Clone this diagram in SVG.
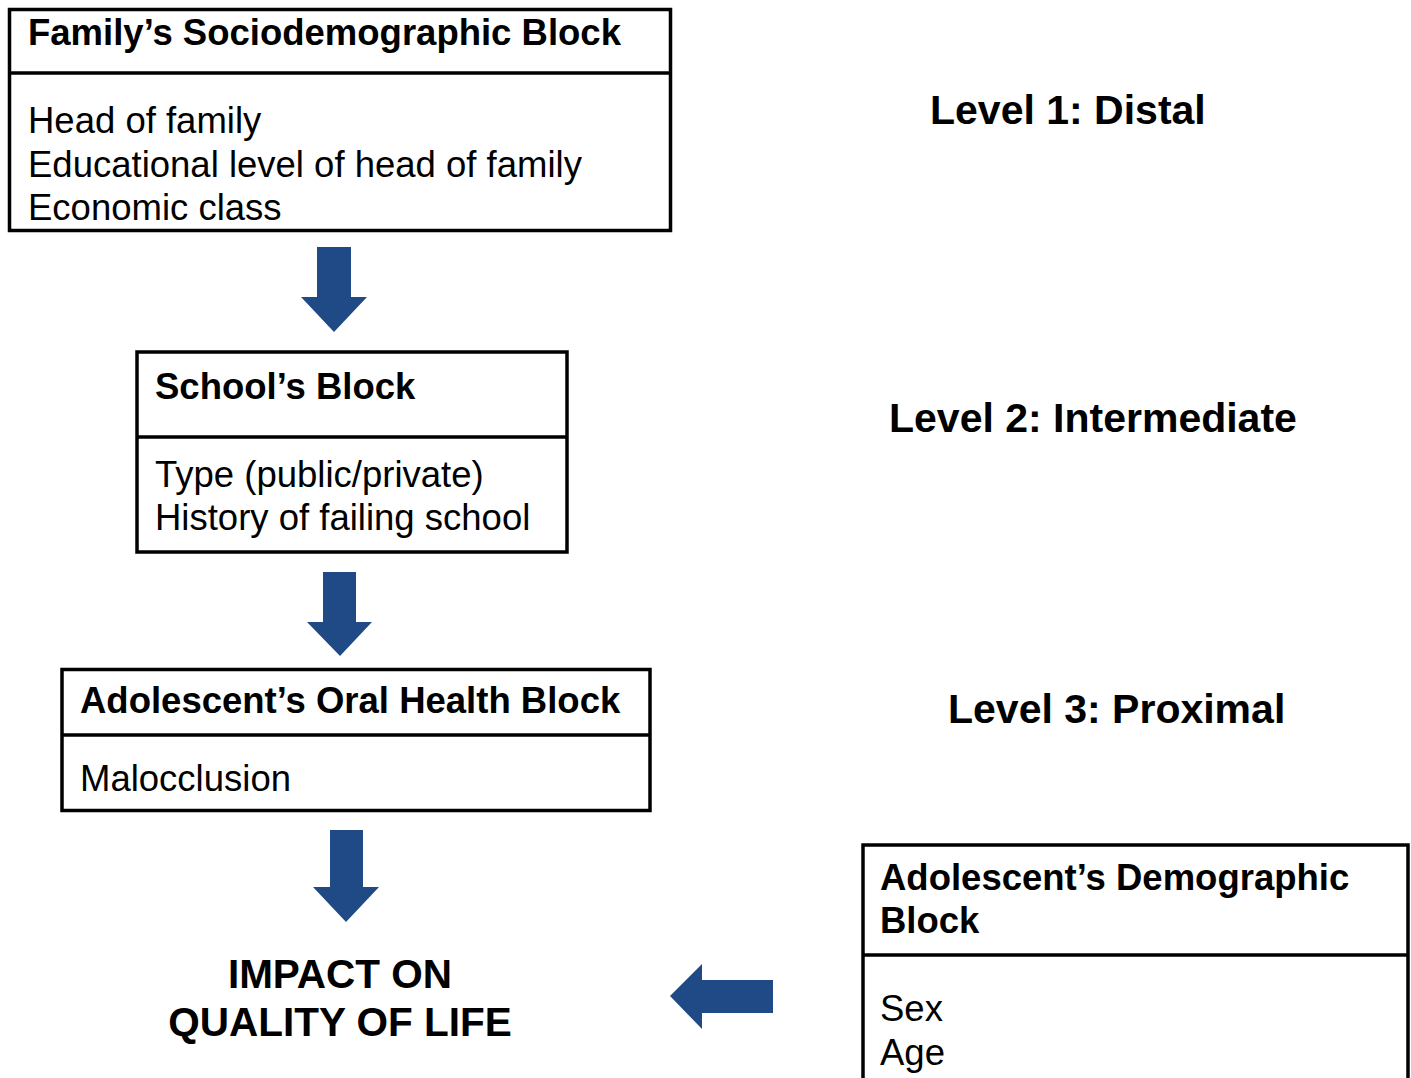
<svg xmlns="http://www.w3.org/2000/svg" width="1411" height="1078" viewBox="0 0 1411 1078">
<style>
.box{fill:#fff;stroke:#000;stroke-width:3.5}
.div{stroke:#000;stroke-width:3.5}
.t{font-family:"Liberation Sans",Arial,sans-serif;font-size:36.5px;font-weight:bold;fill:#000}
.b{font-family:"Liberation Sans",Arial,sans-serif;font-size:36.5px;fill:#000}
.lv{font-family:"Liberation Sans",Arial,sans-serif;font-size:41px;font-weight:bold;fill:#000}
.im{font-family:"Liberation Sans",Arial,sans-serif;font-size:40.5px;font-weight:bold;fill:#000}
.arr{fill:#1F4A85}
</style>
<rect width="1411" height="1078" fill="#fff"/>
<g id="family-block">
<rect class="box" x="9.5" y="9.5" width="661" height="221"/>
<line class="div" x1="9.5" y1="73" x2="670.5" y2="73"/>
<text class="t" x="28" y="45">Family’s Sociodemographic Block</text>
<text class="b" x="28" y="133">Head of family</text>
<text class="b" x="28" y="177">Educational level of head of family</text>
<text class="b" x="28" y="220">Economic class</text>
</g>
<g id="school-block">
<rect class="box" x="137" y="352" width="430" height="200"/>
<line class="div" x1="137" y1="437" x2="567" y2="437"/>
<text class="t" x="155" y="399">School’s Block</text>
<text class="b" x="155" y="487">Type (public/private)</text>
<text class="b" x="155" y="530">History of failing school</text>
</g>
<g id="oral-health-block">
<rect class="box" x="62" y="669.5" width="588" height="141"/>
<line class="div" x1="62" y1="735" x2="650" y2="735"/>
<text class="t" x="80" y="713">Adolescent’s Oral Health Block</text>
<text class="b" x="80" y="791">Malocclusion</text>
</g>
<g id="demographic-block">
<rect class="box" x="863" y="845" width="545" height="250"/>
<line class="div" x1="863" y1="955" x2="1408" y2="955"/>
<text class="t" x="880" y="890">Adolescent’s Demographic</text>
<text class="t" x="880" y="933">Block</text>
<text class="b" x="880" y="1021">Sex</text>
<text class="b" x="880" y="1065">Age</text>
</g>
<g id="outcome">
<text class="im" x="340" y="988" text-anchor="middle">IMPACT ON</text>
<text class="im" x="340" y="1036" text-anchor="middle">QUALITY OF LIFE</text>
</g>
<g id="levels">
<text class="lv" x="930" y="124">Level 1: Distal</text>
<text class="lv" x="889" y="432">Level 2: Intermediate</text>
<text class="lv" x="948" y="723">Level 3: Proximal</text>
</g>
<g id="connectors">
<polygon class="arr" points="317,247 351,247 351,297 367,297 334,332 301,297 317,297"/>
<polygon class="arr" points="323,572 356,572 356,622 372,622 340,656 307,622 323,622"/>
<polygon class="arr" points="330,830 363,830 363,887 379,887 346,922 313,887 330,887"/>
<polygon class="arr" points="773,980 773,1013 702,1013 702,1029 670,996 702,964 702,980"/>
</g>
</svg>
